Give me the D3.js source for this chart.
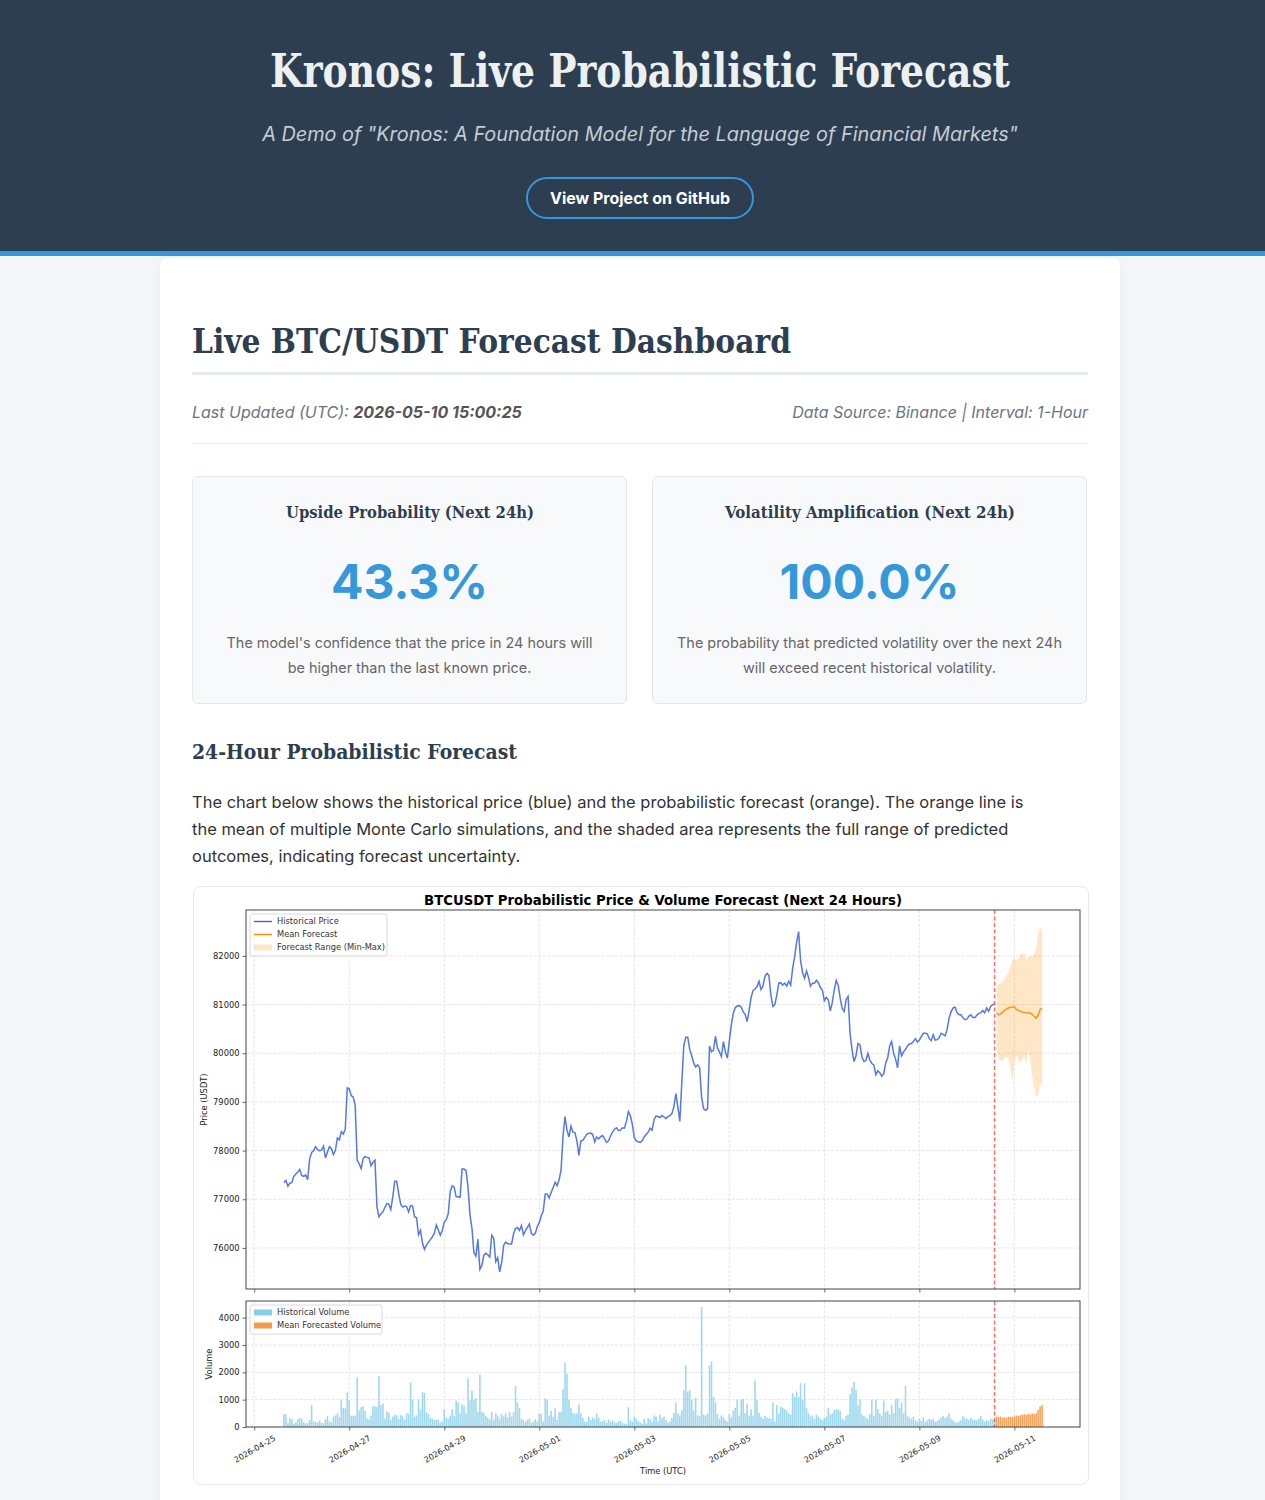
<!DOCTYPE html>
<html><head><meta charset="utf-8">
<script src="https://cdn.jsdelivr.net/npm/d3@7"></script>
<style>
html,body{margin:0;padding:0}
body{background:#f4f6f9;font-family:Inter,"Noto Sans",sans-serif;width:1265px;height:1500px;overflow:hidden;position:relative}
.abs{position:absolute}
#hdr{position:absolute;left:0;top:0;width:1265px;height:251px;background:#2c3e50;border-bottom:5px solid #3498db}
.slab{font-family:"DejaVu Serif",serif;font-weight:bold;white-space:nowrap}
.ctr{transform:translateX(-50%)}
#card{position:absolute;left:160px;top:258px;width:960px;height:1300px;background:#fff;border-radius:8px;box-shadow:0 2px 10px rgba(0,0,0,0.06)}
.mcard{position:absolute;top:476px;width:433px;height:226px;background:#f8f9fa;border:1px solid #e3e6ea;border-radius:6px}
.desc{position:absolute;width:433px;left:0;text-align:center;font-size:14.4px;line-height:25px;color:#666}
.big{position:absolute;left:50%;font-weight:700;color:#3498db;font-size:48px;line-height:60px;white-space:nowrap}
#chartbox{position:absolute;left:193px;top:886px;width:894px;height:597px;border:1px solid #e6e9ec;border-radius:8px;background:#fff}
svg text{font-family:"DejaVu Sans",sans-serif}
</style></head>
<body>
<div id="hdr"></div>
<div class="abs slab ctr sq" data-w="740" style="left:640px;top:41px;line-height:60px;height:60px;font-size:46.6px;color:#ecf0f1">Kronos: Live Probabilistic Forecast</div>
<div class="abs ctr fit" data-w="756" style="left:640px;top:121px;line-height:26px;font-size:19px;font-style:italic;color:#c5ccd3;white-space:nowrap">A Demo of "Kronos: A Foundation Model for the Language of Financial Markets"</div>
<div class="abs" style="left:526px;top:177px;width:224px;height:38px;border:2px solid #3498db;border-radius:21px;color:#fff;font-weight:700;font-size:16px;line-height:38px;text-align:center">View Project on GitHub</div>
<div id="card"></div>
<div class="abs slab sq" data-w="599" style="left:192px;top:320px;line-height:44px;font-size:33px;color:#2c3e50;transform-origin:left center">Live BTC/USDT Forecast Dashboard</div>
<div class="abs" style="left:192px;top:372px;width:896px;height:3px;background:#e6e9ec"></div>
<div class="abs" style="left:192px;top:400px;line-height:24px;font-size:16px;font-style:italic;color:#6c757d;white-space:nowrap">Last Updated (UTC): <b style="color:#555">2026-05-10 15:00:25</b></div>
<div class="abs" style="right:177px;top:400px;line-height:24px;font-size:16px;font-style:italic;color:#6c757d;white-space:nowrap">Data Source: Binance | Interval: 1-Hour</div>
<div class="abs" style="left:192px;top:443px;width:896px;height:1px;background:#e9ecef"></div>

<div class="mcard" style="left:192px">
  <div class="abs slab ctr sq" data-w="248" style="left:217px;top:22px;line-height:26px;font-size:17px;color:#2c3e50">Upside Probability (Next 24h)</div>
  <div class="big ctr" style="top:75px">43.3%</div>
  <div class="desc" style="top:153px">The model's confidence that the price in 24 hours will<br>be higher than the last known price.</div>
</div>
<div class="mcard" style="left:652px">
  <div class="abs slab ctr sq" data-w="290" style="left:217px;top:22px;line-height:26px;font-size:17px;color:#2c3e50">Volatility Amplification (Next 24h)</div>
  <div class="big ctr" style="top:75px">100.0%</div>
  <div class="desc" style="top:153px">The probability that predicted volatility over the next 24h<br>will exceed recent historical volatility.</div>
</div>

<div class="abs slab sq" data-w="325" style="left:192px;top:737px;line-height:30px;font-size:20.6px;color:#2c3e50;transform-origin:left center">24-Hour Probabilistic Forecast</div>
<div class="abs" style="left:192px;top:789px;font-size:16.5px;line-height:27px;color:#333;white-space:nowrap">The chart below shows the historical price (blue) and the probabilistic forecast (orange). The orange line is<br>the mean of multiple Monte Carlo simulations, and the shaded area represents the full range of predicted<br>outcomes, indicating forecast uncertainty.</div>

<div id="chartbox"></div>
<svg id="chart" class="abs" style="left:193px;top:886px" width="896" height="600"></svg>

<script>
// ---------------- DATA ----------------
const histStart = "2026-04-25T15:00:00Z";   // first hourly candle
const fcStart = "2026-05-10T15:00:00Z";     // first forecast step
const chartTitle = "BTCUSDT Probabilistic Price & Volume Forecast (Next 24 Hours)";
const priceTicks = [76000, 77000, 78000, 79000, 80000, 81000, 82000];
const volumeTicks = [0, 1000, 2000, 3000, 4000];
const dateTicks = ["2026-04-25","2026-04-27","2026-04-29","2026-05-01","2026-05-03","2026-05-05","2026-05-07","2026-05-09","2026-05-11"];

const p0425 = [77340,77390,77270,77330,77340,77470,77520,77560,77610];
const p0426 = [77490,77470,77500,77400,77830,77960,78000,78080,78020,78000,78010,78090,77850,77970,78080,78040,77920,78000,78260,78220,78390,78340,78440,79290];
const p0427 = [79270,79130,79100,78930,77800,77730,77630,77830,77880,77860,77850,77690,77760,77800,76850,76640,76700,76740,76830,76910,76900,76790,77050,77370];
const p0428 = [77370,77110,76900,76840,76860,76850,76740,76870,76860,76640,76620,76270,76360,76100,75970,76060,76120,76170,76230,76300,76470,76370,76260,76360];
const p0429 = [76530,76580,76700,77150,77280,77250,77050,77050,77040,77620,77620,77590,77250,76680,76400,75900,75830,76180,75560,75640,75850,75890,75860,75810];
const p0430 = [76260,76200,75720,75800,75510,75700,76050,76120,76090,76080,76080,76290,76400,76420,76360,76460,76270,76350,76420,76490,76300,76260,76300,76440];
const p0501 = [76520,76660,76760,77110,77110,77030,77140,77240,77350,77280,77400,77600,78300,78700,78420,78280,78500,78380,78370,78200,77900,78200,78210,78270];
const p0502 = [78340,78350,78360,78330,78180,78280,78240,78290,78310,78240,78170,78200,78300,78380,78440,78470,78410,78420,78470,78460,78600,78800,78720,78540];
const p0503 = [78270,78200,78180,78170,78200,78280,78330,78380,78460,78420,78640,78710,78700,78680,78720,78690,78660,78700,78720,78760,78900,79170,78900,78600];
const p0504 = [79400,80150,80330,80330,80080,79950,79800,79720,79760,79700,79100,78860,78830,78860,80150,80030,80060,80350,80110,80030,79930,80240,80030,79900];
const p0505 = [80250,80580,80820,80940,80970,80980,80950,80850,80800,80650,80880,81150,81290,81320,81370,81480,81310,81380,81580,81640,81600,81200,80960,81000];
const p0506 = [81200,81440,81450,81400,81440,81380,81480,81400,81750,81980,82280,82500,81900,81660,81540,81690,81560,81380,81440,81440,81500,81450,81350,81300];
const p0507 = [81080,81150,81100,80870,81040,81300,81500,81400,81140,80920,80860,81100,81170,80400,80070,79830,79950,80200,80170,79930,79830,79850,80000,79860];
const p0508 = [79790,79760,79560,79640,79600,79530,79580,79800,79900,80150,80240,80000,79880,79700,80150,79950,80030,80080,80150,80190,80200,80240,80300,80230];
const p0509 = [80270,80340,80410,80410,80400,80300,80260,80380,80270,80280,80320,80410,80390,80360,80480,80720,80850,80930,80950,80840,80790,80790,80730,80690];
const p0510 = [80700,80760,80790,80740,80730,80780,80820,80830,80880,80830,80930,80860,80960,81000,81010];

const v0425 = [470,460,140,320,290,110,170,280,330];
const v0426 = [300,180,130,150,260,800,210,180,160,240,150,140,280,400,210,170,380,420,500,370,980,700,680,1270];
const v0427 = [980,400,420,390,1800,620,720,760,580,320,280,420,760,750,730,1870,800,860,300,580,520,260,380,440];
const v0428 = [420,300,440,390,260,500,480,1630,1000,380,420,1000,640,1280,1240,540,480,330,310,250,270,260,160,200];
const v0429 = [650,350,300,420,650,400,960,900,520,830,780,500,1780,980,1330,1000,1050,560,1920,560,520,400,340,280];
const v0430 = [560,270,500,420,300,470,380,500,350,560,380,540,1500,900,700,300,250,180,260,300,160,200,280,210];
const v0501 = [500,480,200,1050,1000,420,600,380,680,260,550,560,1380,2350,1950,1000,700,520,480,500,820,500,330,200];
const v0502 = [180,380,260,350,300,500,350,180,220,250,150,280,200,240,180,150,200,240,150,120,100,720,250,200];
const v0503 = [380,300,220,160,120,300,130,320,280,180,420,380,200,450,320,380,260,150,200,320,520,880,500,420];
const v0504 = [620,1350,2270,1300,1350,1000,600,1070,420,400,4390,450,420,500,2250,2400,1100,900,480,300,420,350,250,200];
const v0505 = [480,350,600,700,1000,420,1000,1020,500,850,420,650,400,1700,1000,520,380,300,400,350,320,300,900,200];
const v0506 = [800,500,750,700,650,600,500,450,1250,1100,1300,1100,1600,1000,1600,700,500,380,420,300,450,380,300,250];
const v0507 = [320,380,700,450,500,620,640,650,600,300,250,400,450,1200,1450,1650,1350,800,1000,450,400,350,300,480];
const v0508 = [1000,400,1000,650,500,400,970,550,600,450,800,500,1000,1050,700,900,500,1500,400,350,300,380,250,200];
const v0509 = [300,220,350,180,250,300,250,300,200,220,280,350,400,320,380,500,300,250,180,150,200,250,400,320];
const v0510 = [300,250,330,280,260,250,300,400,280,200,250,220,300,280,250];

const fcMean  = [80830,80790,80810,80840,80880,80910,80930,80945,80952,80952,80900,80880,80862,80850,80841,80835,80828,80828,80800,80760,80724,80780,80900,80930];
const fcUpper = [81350,81420,81440,81480,81520,81600,81660,81800,81900,81960,81890,81960,82040,82030,82070,81900,82000,81980,82000,82030,82150,82450,82590,82480];
const fcLower = [80100,79900,79850,79830,79900,79930,79890,79720,79400,79800,79960,79870,79790,79900,79930,79760,80070,79900,79520,79300,79100,79150,79380,79340];
const fcVolume = [380,370,380,350,360,340,370,380,370,390,420,400,430,450,470,440,480,460,500,480,500,620,750,800];

// ---------------- PAGE FONT FITTING ----------------
document.querySelectorAll('.fit').forEach(el => {
  const w = el.getBoundingClientRect().width;
  const fs = parseFloat(getComputedStyle(el).fontSize);
  el.style.fontSize = (fs * (+el.dataset.w) / w) + 'px';
});
// horizontally squeeze slab headings to the target width (keeps cap height)
document.querySelectorAll('.sq').forEach(el => {
  const w = el.getBoundingClientRect().width;
  const s = (+el.dataset.w) / w;
  const base = el.classList.contains('ctr') ? 'translateX(-50%) ' : '';
  el.style.transform = base + `scaleX(${s})`;
});

// ---------------- CHART ----------------
const priceHist = [].concat(p0425,p0426,p0427,p0428,p0429,p0430,p0501,p0502,p0503,p0504,p0505,p0506,p0507,p0508,p0509,p0510);
const volHist = [].concat(v0425,v0426,v0427,v0428,v0429,v0430,v0501,v0502,v0503,v0504,v0505,v0506,v0507,v0508,v0509,v0510);
const t0 = new Date(histStart), tf = new Date(fcStart);
const hist = priceHist.map((v,i)=>({t:d3.utcHour.offset(t0,i), v, vol:volHist[i]}));
const fc = fcMean.map((v,i)=>({t:d3.utcHour.offset(tf,i), v, lo:fcLower[i], hi:fcUpper[i], vol:fcVolume[i]}));
const lastT = hist[hist.length-1].t;

const svg = d3.select('#chart');
const L = 53, R = 887, PT = 24, PB = 403, VT = 415, VB = 541;

const tMin = hist[0].t, tMax = fc[fc.length-1].t;
const pad = (tMax - tMin) * 0.05;
const x = d3.scaleUtc().domain([new Date(+tMin - pad), new Date(+tMax + pad)]).range([L, R]);
const pMin = d3.min([d3.min(priceHist), d3.min(fcLower)]), pMax = d3.max([d3.max(priceHist), d3.max(fcUpper)]);
const pp = (pMax - pMin) * 0.05;
const y = d3.scaleLinear().domain([pMin - pp, pMax + pp]).range([PB, PT]);
const vMax = d3.max([d3.max(volHist), d3.max(fcVolume)]);
const yv = d3.scaleLinear().domain([0, vMax * 1.05]).range([VB, VT]);
const xTickDates = dateTicks.map(s => new Date(s + "T00:00:00Z"));

svg.append('defs').html(`<clipPath id="cp"><rect x="${L}" y="${PT}" width="${R-L}" height="${PB-PT}"/></clipPath><clipPath id="cv"><rect x="${L}" y="${VT}" width="${R-L}" height="${VB-VT}"/></clipPath>`);

// title
svg.append('text').attr('class','fit2').attr('x', (L+R)/2).attr('y', 18.5).attr('text-anchor','middle')
  .attr('font-weight','bold').attr('font-size', 12).attr('fill','#000').text(chartTitle);

function grid(top, bottom, yScale, ticks){
  const g = svg.append('g');
  g.selectAll('.gx').data(xTickDates).join('line').attr('x1',d=>x(d)).attr('x2',d=>x(d)).attr('y1',top).attr('y2',bottom)
   .attr('stroke','#dedede').attr('stroke-width',0.8).attr('stroke-dasharray','3,1.5');
  g.selectAll('.gy').data(ticks).join('line').attr('x1',L).attr('x2',R).attr('y1',d=>yScale(d)).attr('y2',d=>yScale(d))
   .attr('stroke','#dedede').attr('stroke-width',0.8).attr('stroke-dasharray','3,1.5');
}
grid(PT, PB, y, priceTicks);
grid(VT, VB, yv, volumeTicks);

// price panel
const pg = svg.append('g').attr('clip-path','url(#cp)');
pg.append('path').datum(fc).attr('fill','#ff8c00').attr('fill-opacity',0.22)
  .attr('d', d3.area().x(d=>x(d.t)).y0(d=>y(d.lo)).y1(d=>y(d.hi)));
pg.append('path').datum(hist).attr('fill','none').attr('stroke','#4169e1').attr('stroke-width',1.5).attr('stroke-opacity',0.9)
  .attr('d', d3.line().x(d=>x(d.t)).y(d=>y(d.v)));
pg.append('path').datum(fc).attr('fill','none').attr('stroke','#ff8c00').attr('stroke-width',1.5).attr('stroke-opacity',0.9)
  .attr('d', d3.line().x(d=>x(d.t)).y(d=>y(d.v)));

// volume panel
const bw = (x(d3.utcHour.offset(t0,1)) - x(t0)) * 0.8;
const vg = svg.append('g').attr('clip-path','url(#cv)');
vg.selectAll('.hb').data(hist).join('rect').attr('x',d=>x(d.t)-bw/2).attr('width',bw)
  .attr('y',d=>yv(d.vol)).attr('height',d=>yv(0)-yv(d.vol)).attr('fill','#87ceeb').attr('fill-opacity',0.8);
vg.selectAll('.fb').data(fc).join('rect').attr('x',d=>x(d.t)-bw/2).attr('width',bw)
  .attr('y',d=>yv(d.vol)).attr('height',d=>yv(0)-yv(d.vol)).attr('fill','#f39a4c').attr('fill-opacity',0.9);

// red dashed separators
[[PT,PB],[VT,VB]].forEach(([a,b])=>{
  svg.append('line').attr('x1',x(lastT)).attr('x2',x(lastT)).attr('y1',a).attr('y2',b)
    .attr('stroke','#ff3b3b').attr('stroke-opacity',0.75).attr('stroke-width',1.5).attr('stroke-dasharray','4,2.5');
});

// axes
function axes(top, bottom, yScale, ticks, showX){
  const ya = d3.axisLeft(yScale).tickValues(ticks).tickSize(3.5).tickPadding(3).tickFormat(d3.format('d'));
  const gy = svg.append('g').attr('transform',`translate(${L},0)`).call(ya);
  gy.select('.domain').remove();
  gy.selectAll('text').attr('font-size',8.3).attr('fill','#222').attr('font-family','DejaVu Sans');
  gy.selectAll('line').attr('stroke','#444').attr('stroke-width',0.8);
  const xa = d3.axisBottom(x).tickValues(xTickDates).tickSize(3.5).tickFormat(showX ? d3.utcFormat('%Y-%m-%d') : '');
  const gx = svg.append('g').attr('transform',`translate(0,${bottom})`).call(xa);
  gx.select('.domain').remove();
  gx.selectAll('line').attr('stroke','#444').attr('stroke-width',0.8);
  if (showX) {
    gx.selectAll('text').attr('font-size',8).attr('fill','#222').attr('font-family','DejaVu Sans')
      .attr('text-anchor','middle').attr('dy','0.35em').attr('y',0)
      .attr('transform','translate(0,22) rotate(-30)');
  }
  svg.append('rect').attr('x',L).attr('y',top).attr('width',R-L).attr('height',bottom-top)
    .attr('fill','none').attr('stroke','#444').attr('stroke-width',1);
}
axes(PT, PB, y, priceTicks, false);
axes(VT, VB, yv, volumeTicks, true);

// axis labels
svg.append('text').attr('transform',`translate(14,${(PT+PB)/2}) rotate(-90)`).attr('text-anchor','middle')
  .attr('font-size',8.3).attr('fill','#222').text('Price (USDT)');
svg.append('text').attr('transform',`translate(19,${(VT+VB)/2}) rotate(-90)`).attr('text-anchor','middle')
  .attr('font-size',8.3).attr('fill','#222').text('Volume');
svg.append('text').attr('x',(L+R)/2).attr('y',588).attr('text-anchor','middle')
  .attr('font-size',8.3).attr('fill','#222').text('Time (UTC)');

// legends
function legend(x0, y0, w, items){
  const g = svg.append('g');
  g.append('rect').attr('x',x0).attr('y',y0).attr('width',w).attr('height',items.length*13+3)
    .attr('fill','#fff').attr('fill-opacity',0.85).attr('stroke','#d0d0d0').attr('stroke-width',0.8).attr('rx',2);
  items.forEach((it,i)=>{
    const cy = y0 + 7.5 + i*13;
    if (it.type==='line') g.append('line').attr('x1',x0+4).attr('x2',x0+22).attr('y1',cy).attr('y2',cy).attr('stroke',it.color).attr('stroke-width',1.4);
    else g.append('rect').attr('x',x0+4).attr('y',cy-3).attr('width',18).attr('height',6).attr('fill',it.color).attr('fill-opacity',it.op||1);
    g.append('text').attr('x',x0+27).attr('y',cy+2.9).attr('font-size',8.3).attr('fill','#333').text(it.label);
  });
}
legend(57, 28, 137, [
  {type:'line', color:'#4169e1', label:'Historical Price'},
  {type:'line', color:'#ff8c00', label:'Mean Forecast'},
  {type:'rect', color:'#ff8c00', op:0.22, label:'Forecast Range (Min-Max)'}
]);
legend(57, 419, 132, [
  {type:'rect', color:'#87ceeb', label:'Historical Volume'},
  {type:'rect', color:'#f39a4c', label:'Mean Forecasted Volume'}
]);

// fit chart title width
const tt = svg.select('.fit2'); const tw = tt.node().getComputedTextLength();
tt.attr('font-size', 12 * 478 / tw);
</script>
</body></html>
